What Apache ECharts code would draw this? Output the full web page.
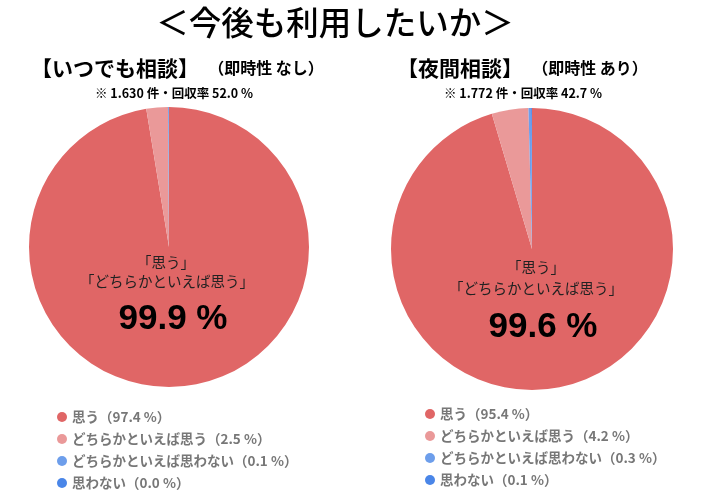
<!DOCTYPE html>
<html>
<head>
<meta charset="utf-8">
<script src="https://cdn.jsdelivr.net/npm/echarts@6/dist/echarts.min.js"></script>
<style>
  html, body { margin: 0; padding: 0; background: #fff; }
  #main { width: 706px; height: 493px; }
</style>
</head>
<body>
<div id="main"></div>
<script>
var categories = ['思う', 'どちらかといえば思う', 'どちらかといえば思わない', '思わない'];
var anytimeValues = [97.4, 2.5, 0.1, 0.0];   // いつでも相談
var nightValues = [95.4, 4.2, 0.3, 0.1];     // 夜間相談
var colors = ['#e06666', '#ea9999', '#6d9eeb', '#4a86e8'];

var jp = '"Noto Sans CJK JP", sans-serif';
var num = '"Liberation Sans", Arial, sans-serif';

var chart = echarts.init(document.getElementById('main'));

function pieData(values) {
  return categories.map(function (name, i) {
    return { name: name, value: values[i], itemStyle: { color: colors[i] } };
  });
}

function legendFor(values, left, top) {
  return {
    orient: 'vertical',
    left: left,
    top: top,
    height: 120,
    icon: 'circle',
    itemWidth: 10,
    itemHeight: 10,
    itemGap: 8,
    padding: 0,
    selectedMode: false,
    data: categories,
    textStyle: { fontFamily: jp, fontSize: 13.5, fontWeight: 'bold', color: '#777', lineHeight: 14 },
    formatter: function (name) {
      var v = values[categories.indexOf(name)];
      return name + '（' + v.toFixed(1) + ' %）';
    }
  };
}

// 「思う」+「どちらかといえば思う」
var anytimeTotal = (anytimeValues[0] + anytimeValues[1]).toFixed(1);
var nightTotal = (nightValues[0] + nightValues[1]).toFixed(1);

function txt(x, y, text, size, weight, family, color) {
  return {
    type: 'text', x: x, y: y,
    style: {
      text: text, fontSize: size, fontWeight: weight, fontFamily: family,
      fill: color || '#000', align: 'center', verticalAlign: 'middle'
    },
    z: 100
  };
}

var option = {
  animation: false,
  legend: [legendFor(anytimeValues, 57, 410), legendFor(nightValues, 425, 407)],
  series: [
    {
      type: 'pie',
      center: [169, 247],
      radius: 140,
      startAngle: 90,
      clockwise: true,
      label: { show: false },
      labelLine: { show: false },
      emphasis: { disabled: true },
      itemStyle: { borderWidth: 0 },
      data: pieData(anytimeValues)
    },
    {
      type: 'pie',
      center: [532, 249],
      radius: 141,
      startAngle: 90,
      clockwise: true,
      label: { show: false },
      labelLine: { show: false },
      emphasis: { disabled: true },
      itemStyle: { borderWidth: 0 },
      data: pieData(nightValues)
    }
  ],
  graphic: [
    txt(335, 23, '＜今後も利用したいか＞', 32.5, 500, jp),
    txt(115, 68, '【いつでも相談】', 21, 'bold', jp),
    txt(266, 68, '（即時性 なし）', 16, 'bold', jp),
    txt(174, 93, '※ 1.630 件・回収率 52.0 %', 12.5, 'bold', jp),
    txt(460, 68, '【夜間相談】', 21, 'bold', jp),
    txt(590, 68, '（即時性 あり）', 16, 'bold', jp),
    txt(523, 93, '※ 1.772 件・回収率 42.7 %', 12.5, 'bold', jp),

    txt(166, 262, '「思う」', 14.5, 'normal', jp, '#222'),
    txt(167, 281, '「どちらかといえば思う」', 14.5, 'normal', jp, '#222'),
    txt(173, 319, anytimeTotal + ' %', 35, 'bold', num),

    txt(536, 267, '「思う」', 14.5, 'normal', jp, '#222'),
    txt(536, 288, '「どちらかといえば思う」', 14.5, 'normal', jp, '#222'),
    txt(543, 327, nightTotal + ' %', 35, 'bold', num)
  ]
};

chart.setOption(option);
window.addEventListener('resize', function () { chart.resize(); });
</script>
</body>
</html>
